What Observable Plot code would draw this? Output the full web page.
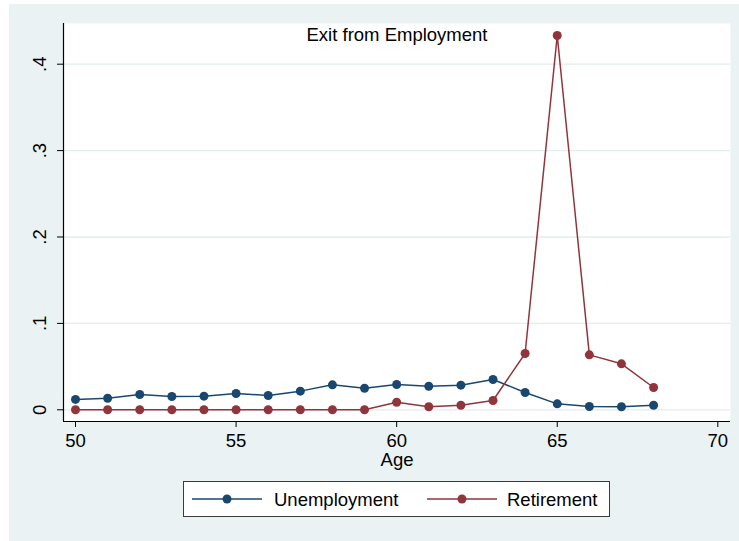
<!DOCTYPE html>
<html><head><meta charset="utf-8">
<script src="https://cdn.jsdelivr.net/npm/d3@7"></script>
<script src="https://cdn.jsdelivr.net/npm/@observablehq/plot@0.6"></script>
<style>
body{margin:0;background:#fff;font-family:"Liberation Sans",Arial,sans-serif;}
#wrap{position:relative;width:739px;height:541px;overflow:hidden;}
#bg{position:absolute;left:9px;top:4px;right:0;bottom:0;background:#eaf2f3;}
#chart{position:absolute;left:0;top:0;}
#legend{position:absolute;left:183px;top:481px;width:425px;height:34px;border:1px solid #3a3a3a;background:#fff;}
#legend svg{display:block;}
</style></head><body>
<div id="wrap"><div id="bg"></div><div id="chart"></div><div id="legend"></div></div>
<script>
const ages = [50,51,52,53,54,55,56,57,58,59,60,61,62,63,64,65,66,67,68];
const unemployment = [0.012,0.0134,0.0177,0.0154,0.0158,0.0189,0.0166,0.0216,0.0289,0.025,0.0293,0.0273,0.0285,0.0351,0.020,0.0069,0.0038,0.0035,0.0053];
const retirement = [0,0,0,0,0,0,0,0,0,0,0.0088,0.0035,0.0053,0.0108,0.0652,0.4332,0.0636,0.0532,0.0258];
const xTicks = [50,55,60,65,70];
const yTicks = [0,0.1,0.2,0.3,0.4];
const seriesNames = ["Unemployment","Retirement"];
const seriesColors = ["#1a476f","#90353b"];
const titleText = "Exit from Employment";
const xLabel = "Age";

const xDomain = [49.626, 70.395];
const yDomain = [-0.01354, 0.4471];
const FS = 18.5;
const FONT = '"Liberation Sans",Arial,sans-serif';

const rows = [];
ages.forEach((a,i)=>{
  rows.push({age:a, value:unemployment[i], series:seriesNames[0]});
  rows.push({age:a, value:retirement[i], series:seriesNames[1]});
});
const fmtY = d => d === 0 ? "0" : d3.format(".1f")(d).replace(/^0/, "");

const seriesMarks = seriesNames.flatMap(name => {
  const data = rows.filter(r => r.series === name);
  return [
    Plot.line(data, {x:"age", y:"value", stroke:"series", strokeWidth:1.5}),
    Plot.dot(data, {x:"age", y:"value", fill:"series", r:4.5, stroke:null})
  ];
});

const chart = Plot.plot({
  width:739, height:475,
  marginLeft:63, marginRight:9, marginTop:23, marginBottom:54,
  style:{background:"transparent", fontFamily:FONT, fontSize:FS+"px", color:"#000"},
  x:{domain:xDomain, axis:null},
  y:{domain:yDomain, axis:null},
  color:{domain:seriesNames, range:seriesColors},
  marks:[
    Plot.frame({fill:"white", stroke:null}),
    Plot.gridY(yTicks, {stroke:"#e3ecee", strokeOpacity:1, strokeWidth:1.3}),
    Plot.axisY({ticks:yTicks, tickSize:6, tickFormat:()=>"", stroke:"#000", label:null}),
    Plot.text(yTicks, {y:d=>d, text:fmtY, frameAnchor:"left", dx:-23, rotate:-90, fontSize:FS, fill:"#000", textAnchor:"middle", lineAnchor:"middle"}),
    Plot.axisX({ticks:xTicks, tickSize:6, tickPadding:6, fontSize:FS, tickFormat:d=>String(d), stroke:"#000", fill:"#000", label:null}),
    Plot.ruleX([xDomain[0]], {stroke:"#000", strokeWidth:1.2}),
    Plot.ruleY([yDomain[0]], {stroke:"#000", strokeWidth:1.2}),
    Plot.text([titleText], {text:d=>d, frameAnchor:"top", lineAnchor:"top", dy:4, fontSize:FS, fill:"#000"}),
    Plot.text([xLabel], {text:d=>d, frameAnchor:"bottom", lineAnchor:"top", dy:31, fontSize:FS, fill:"#000"}),
    ...seriesMarks
  ]
});
document.getElementById("chart").append(chart);

// legend
const lg = d3.select("#legend").append("svg").attr("width",425).attr("height",34)
  .style("font-family", FONT).style("font-size", FS+"px");
const itemX = [8, 243];
const textX = [90, 323];
seriesNames.forEach((name,i)=>{
  const g = lg.append("g");
  g.append("line").attr("x1", itemX[i]).attr("x2", itemX[i]+70).attr("y1",17).attr("y2",17)
    .attr("stroke", seriesColors[i]).attr("stroke-width",1.5);
  g.append("circle").attr("cx", itemX[i]+35).attr("cy",17).attr("r",4.5).attr("fill", seriesColors[i]);
  g.append("text").attr("x", textX[i]).attr("y",17).attr("dy","0.4em").attr("fill","#000").text(name);
});
</script>
</body></html>
